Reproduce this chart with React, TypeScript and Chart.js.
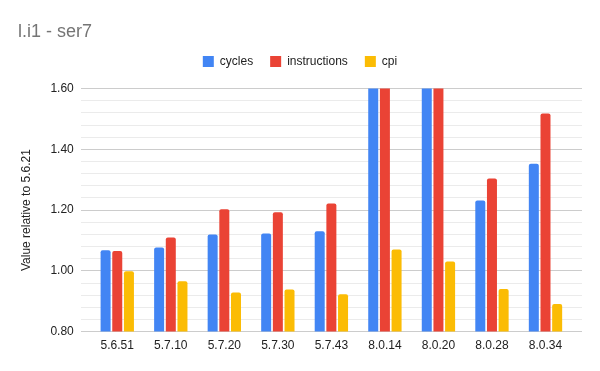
import React, { useEffect, useRef } from "react";
import { Chart, registerables } from "chart.js";

Chart.register(...registerables);

const categories = ["5.6.51", "5.7.10", "5.7.20", "5.7.30", "5.7.43", "8.0.14", "8.0.20", "8.0.28", "8.0.34"];
const cycles = [1.068, 1.077, 1.12, 1.123, 1.13, 1.9, 1.88, 1.232, 1.353];
const instructions = [1.065, 1.11, 1.203, 1.193, 1.222, 1.97, 1.95, 1.304, 1.518];
const cpi = [0.999, 0.966, 0.929, 0.939, 0.923, 1.07, 1.031, 0.94, 0.891];
const yMin = 0.8;
const yMax = 1.6;
const yMinorStep = 0.04;
const yMajorStep = 0.2;

const FONT = "'Liberation Sans', Arial, sans-serif";

const isMajor = (v: number) => Math.abs(v / yMajorStep - Math.round(v / yMajorStep)) < 1e-6;

const legendSpace = {
  id: "legendSpace",
  beforeInit(chart: any) {
    const legend = chart.legend;
    if (!legend) return;
    const orig = legend.fit;
    legend.fit = function () {
      orig.call(this);
      this.height += 11;
    };
  },
};

export default function App() {
  const ref = useRef<HTMLCanvasElement | null>(null);
  useEffect(() => {
    if (!ref.current) return;
    const toPts = (arr: number[]) => arr.map((v, i) => ({ x: i, y: v }));
    const chart = new Chart(ref.current, {
      type: "bar",
      data: {
        datasets: [
          { label: "cycles", data: toPts(cycles), backgroundColor: "#4285F4" },
          { label: "instructions", data: toPts(instructions), backgroundColor: "#EA4335" },
          { label: "cpi", data: toPts(cpi), backgroundColor: "#FBBC04" },
        ] as any,
      },
      plugins: [legendSpace],
      options: {
        animation: false,
        responsive: true,
        maintainAspectRatio: false,
        layout: { padding: { left: 18, right: 18, top: 0, bottom: 11 } },
        datasets: {
          bar: { categoryPercentage: 0.654, barPercentage: 0.857, borderRadius: 2 },
        } as any,
        plugins: {
          title: {
            display: true,
            text: "l.i1 - ser7",
            align: "start",
            color: "#757575",
            font: { family: FONT, size: 18, weight: "normal" },
            padding: { top: 21, bottom: -4 },
          },
          legend: {
            display: true,
            position: "top",
            labels: {
              boxWidth: 11,
              boxHeight: 11,
              padding: 17,
              color: "#222",
              font: { family: FONT, size: 12 },
            },
          },
          tooltip: { enabled: false },
        },
        scales: {
          x: {
            type: "linear",
            min: -0.682,
            max: categories.length - 1 + 0.682,
            offset: false,
            grid: { display: false, drawTicks: false },
            border: { display: false },
            afterBuildTicks: (scale: any) => {
              scale.ticks = categories.map((_, i) => ({ value: i }));
            },
            ticks: {
              autoSkip: false,
              maxRotation: 0,
              padding: 7,
              color: "#222",
              font: { family: FONT, size: 12 },
              callback: (v: any) => categories[Math.round(Number(v))] ?? "",
            },
          },
          y: {
            min: yMin,
            max: yMax,
            afterBuildTicks: (scale: any) => {
              const t: any[] = [];
              const n = Math.round((yMax - yMin) / yMinorStep);
              for (let i = 0; i <= n; i++) t.push({ value: +(yMin + i * yMinorStep).toFixed(4) });
              scale.ticks = t;
            },
            grid: {
              drawTicks: false,
              color: (ctx: any) => (ctx.tick && isMajor(ctx.tick.value) ? "#cccccc" : "#ebebeb"),
              lineWidth: 1,
            },
            border: { display: false },
            ticks: {
              autoSkip: false,
              padding: 7,
              color: "#222",
              font: { family: FONT, size: 12 },
              callback: (v: any) => (isMajor(Number(v)) ? Number(v).toFixed(2) : ""),
            },
            title: {
              display: true,
              text: "Value relative to 5.6.21",
              color: "#222",
              font: { family: FONT, size: 12 },
              padding: { top: 1, bottom: 10 },
            },
          },
        },
      },
    });
    return () => chart.destroy();
  }, []);
  return (
    <div style={{ position: "fixed", left: 0, top: 0, width: 600, height: 371, background: "#fff" }}>
      <canvas ref={ref} />
    </div>
  );
}
